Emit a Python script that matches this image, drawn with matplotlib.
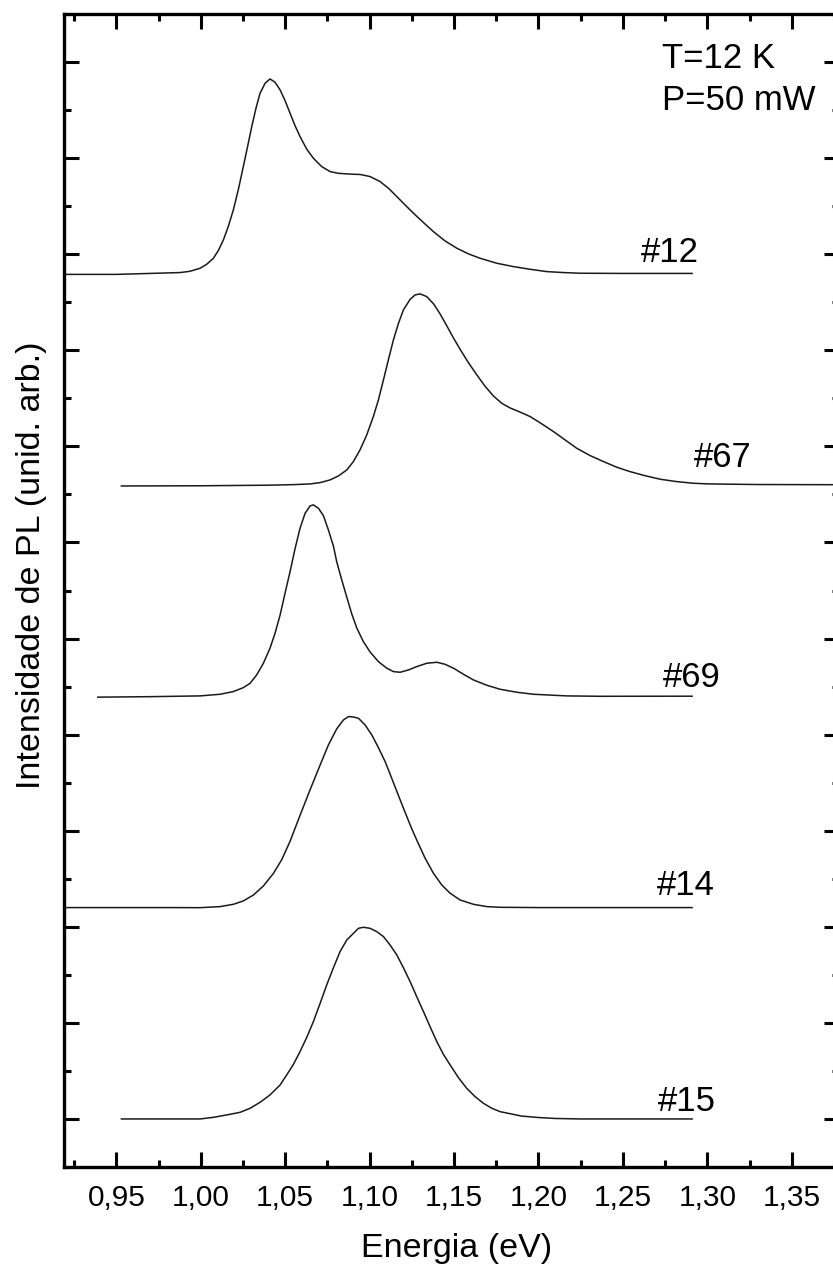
import numpy as np
import matplotlib
matplotlib.use('Agg')
import matplotlib.pyplot as plt
from matplotlib.ticker import MultipleLocator, FixedLocator

plt.rcParams['font.family'] = ['Liberation Sans', 'DejaVu Sans']

# PL spectra at T=12 K, normalised, one list pair per sample
samples = ['#12', '#67', '#69', '#14', '#15']

e12 = [0.900, 0.950, 0.970, 0.9877, 0.9936, 0.9996, 1.0035, 1.0075, 1.0104, 1.0134,
       1.0164, 1.0193, 1.0223, 1.0252, 1.0278, 1.0302, 1.0327, 1.0351, 1.0381, 1.0410,
       1.0440, 1.0470, 1.0499, 1.0529, 1.0558, 1.0588, 1.0628, 1.0667, 1.0716, 1.0766,
       1.0815, 1.0865, 1.0904, 1.0944, 1.1003, 1.1062, 1.1112, 1.1161, 1.1210, 1.1260,
       1.1319, 1.1378, 1.1447, 1.1517, 1.1586, 1.1654, 1.1753, 1.1852, 1.1951, 1.2049,
       1.2148, 1.2247, 1.250, 1.291]
i12 = [-0.010, -0.010, 0.000, 0.009, 0.022, 0.054, 0.095, 0.158, 0.238, 0.349,
       0.494, 0.661, 0.876, 1.112, 1.327, 1.528, 1.719, 1.875, 1.979, 2.024,
       1.990, 1.910, 1.799, 1.667, 1.539, 1.424, 1.292, 1.199, 1.112, 1.060,
       1.042, 1.036, 1.032, 1.030, 1.008, 0.956, 0.886, 0.800, 0.713, 0.626,
       0.529, 0.435, 0.338, 0.262, 0.203, 0.158, 0.106, 0.071, 0.043, 0.019,
       0.009, 0.002, 0.000, 0.000]

e67 = [0.953, 1.000, 1.040, 1.055, 1.0647, 1.0707, 1.0766, 1.0815, 1.0865, 1.0904,
       1.0943, 1.0983, 1.1022, 1.1052, 1.1082, 1.1111, 1.1141, 1.1171, 1.1200, 1.1240,
       1.1269, 1.1299, 1.1338, 1.1378, 1.1417, 1.1457, 1.1496, 1.1536, 1.1585, 1.1635,
       1.1684, 1.1733, 1.1783, 1.1832, 1.1891, 1.1951, 1.2020, 1.2089, 1.2158, 1.2227,
       1.2306, 1.2385, 1.2464, 1.2543, 1.2622, 1.2721, 1.2820, 1.2918, 1.3017, 1.330,
       1.400]
i67 = [-0.012, -0.010, -0.004, 0.002, 0.009, 0.023, 0.051, 0.092, 0.155, 0.242,
       0.363, 0.519, 0.710, 0.883, 1.092, 1.300, 1.508, 1.681, 1.820, 1.931,
       1.976, 1.987, 1.959, 1.885, 1.780, 1.655, 1.530, 1.410, 1.272, 1.144,
       1.025, 0.925, 0.848, 0.800, 0.757, 0.710, 0.634, 0.554, 0.467, 0.380,
       0.304, 0.242, 0.183, 0.137, 0.099, 0.058, 0.033, 0.016, 0.009, 0.003,
       0.000]

e69 = [0.939, 0.970, 0.9996, 1.0114, 1.0193, 1.0252, 1.0292, 1.0331, 1.0371, 1.0410,
       1.0440, 1.0470, 1.0499, 1.0529, 1.0559, 1.0588, 1.0618, 1.0647, 1.0667, 1.0697,
       1.0726, 1.0756, 1.0786, 1.0805, 1.0835, 1.0865, 1.0894, 1.0924, 1.0963, 1.1003,
       1.1052, 1.1102, 1.1141, 1.1181, 1.1230, 1.1279, 1.1339, 1.1398, 1.1447, 1.1497,
       1.1556, 1.1615, 1.1694, 1.1773, 1.1872, 1.1971, 1.2168, 1.2366, 1.291]
i69 = [-0.010, -0.005, 0.003, 0.020, 0.048, 0.089, 0.134, 0.221, 0.343, 0.499,
       0.655, 0.846, 1.071, 1.297, 1.540, 1.748, 1.904, 1.980, 1.991, 1.956,
       1.880, 1.730, 1.560, 1.401, 1.210, 1.030, 0.858, 0.710, 0.568, 0.460,
       0.360, 0.291, 0.256, 0.249, 0.273, 0.308, 0.343, 0.353, 0.332, 0.291,
       0.228, 0.169, 0.114, 0.072, 0.041, 0.020, 0.003, -0.001, 0.000]

e14 = [0.900, 0.980, 0.9996, 1.0114, 1.0193, 1.0252, 1.0312, 1.0371, 1.0430, 1.0480,
       1.0529, 1.0588, 1.0647, 1.0707, 1.0756, 1.0805, 1.0845, 1.0875, 1.0904, 1.0934,
       1.0973, 1.1013, 1.1052, 1.1092, 1.1131, 1.1171, 1.1210, 1.1250, 1.1289, 1.1329,
       1.1378, 1.1427, 1.1477, 1.1536, 1.1615, 1.1694, 1.1773, 1.200, 1.291]
i14 = [0.000, 0.000, -0.001, 0.010, 0.034, 0.069, 0.131, 0.225, 0.355, 0.500,
       0.690, 0.960, 1.224, 1.484, 1.693, 1.859, 1.953, 1.988, 1.984, 1.970,
       1.901, 1.797, 1.665, 1.519, 1.346, 1.165, 0.992, 0.818, 0.665, 0.513,
       0.357, 0.236, 0.149, 0.079, 0.034, 0.010, 0.003, 0.000, 0.000]

e15 = [0.953, 0.990, 0.9996, 1.0075, 1.0154, 1.0233, 1.0292, 1.0351, 1.0410, 1.0470,
       1.0509, 1.0549, 1.0588, 1.0628, 1.0667, 1.0707, 1.0746, 1.0786, 1.0825, 1.0865,
       1.0904, 1.0934, 1.0963, 1.1003, 1.1042, 1.1082, 1.1121, 1.1161, 1.1200, 1.1240,
       1.1279, 1.1319, 1.1358, 1.1398, 1.1437, 1.1477, 1.1526, 1.1575, 1.1625, 1.1674,
       1.1724, 1.1773, 1.190, 1.200, 1.210, 1.225, 1.291]
i15 = [0.000, 0.000, 0.000, 0.017, 0.042, 0.069, 0.111, 0.173, 0.250, 0.354,
       0.458, 0.569, 0.701, 0.850, 1.013, 1.204, 1.395, 1.575, 1.742, 1.863,
       1.932, 1.984, 1.995, 1.984, 1.950, 1.898, 1.811, 1.707, 1.575, 1.429,
       1.273, 1.117, 0.961, 0.805, 0.673, 0.562, 0.430, 0.319, 0.232, 0.163,
       0.111, 0.076, 0.030, 0.015, 0.005, 0.000, 0.000]

energies = [e12, e67, e69, e14, e15]
intensities = [i12, i67, i69, i14, i15]

# vertical stacking of the spectra
offsets = [8.8, 6.6, 4.4, 2.2, 0.0]

xticks = [0.95, 1.00, 1.05, 1.10, 1.15, 1.20, 1.25, 1.30, 1.35]
xtick_labels = ['0,95', '1,00', '1,05', '1,10', '1,15', '1,20', '1,25', '1,30', '1,35']

# where the sample names go: (energy, height above the baseline)
name_pos = [(1.278, 0.12), (1.309, 0.19), (1.291, 0.10), (1.287, 0.13), (1.288, 0.08)]

W, H = 833, 1268
fig = plt.figure(figsize=(W / 100, H / 100), dpi=100)
ax = fig.add_axes([64 / W, (H - 1167) / H, (839 - 64) / W, (1167 - 14) / H])

for e, inten, off, name, (tx, ty) in zip(energies, intensities, offsets, samples, name_pos):
    ax.plot(e, np.array(inten) + off, color='#1a1a1a', lw=1.1,
            solid_joinstyle='round', antialiased=True)
    ax.text(tx, off + ty, name, fontsize=25, ha='center', va='baseline')

ax.set_xlim(0.919, 1.378)
ax.set_ylim(-0.5, 11.5)

ax.xaxis.set_major_locator(FixedLocator(xticks))
ax.set_xticklabels(xtick_labels)
ax.xaxis.set_minor_locator(MultipleLocator(0.025))
ax.yaxis.set_major_locator(MultipleLocator(1))
ax.yaxis.set_minor_locator(MultipleLocator(0.5))

ax.tick_params(which='both', direction='in', top=True, right=True,
               labelleft=False, width=2.2)
ax.tick_params(which='major', length=10.5)
ax.tick_params(which='minor', length=5)
ax.tick_params(axis='x', which='major', labelsize=21.5, pad=12)
for sp in ax.spines.values():
    sp.set_linewidth(2.4)

ax.set_xlabel('Energia (eV)', fontsize=24.5)
ax.xaxis.set_label_coords(0.506, -0.0572)
ax.set_ylabel('Intensidade de PL (unid. arb.)', fontsize=24.5)
ax.yaxis.set_label_coords(-0.022, 0.522)

ax.text(0.772, 0.953, 'T=12 K', transform=ax.transAxes, fontsize=25, va='baseline')
ax.text(0.772, 0.917, 'P=50 mW', transform=ax.transAxes, fontsize=25, va='baseline')

fig.savefig('out.png', dpi=100)
